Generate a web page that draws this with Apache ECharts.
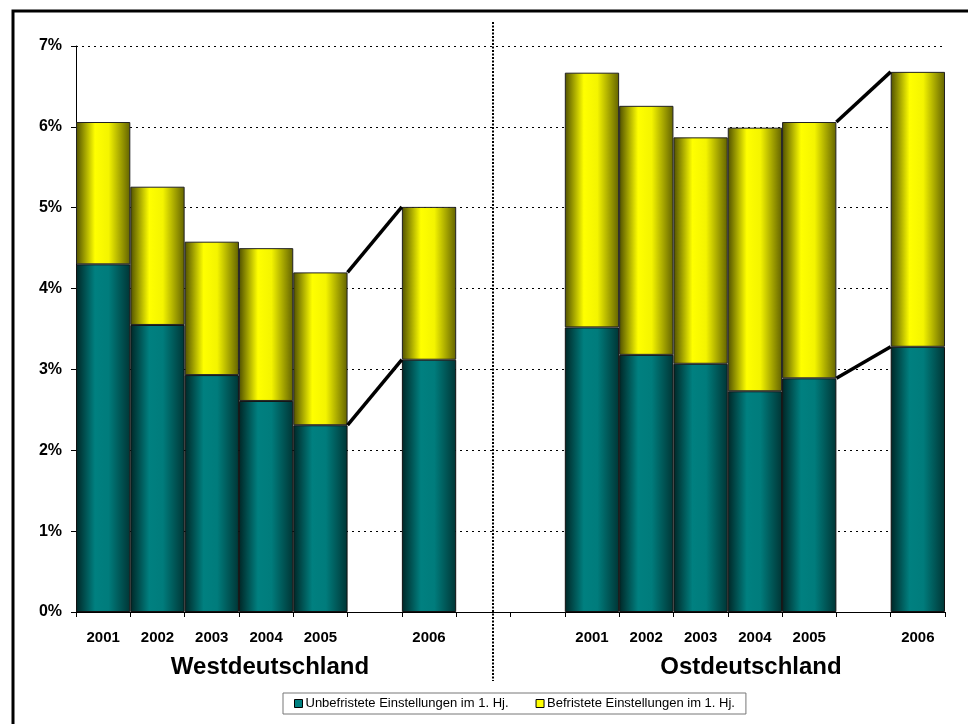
<!DOCTYPE html>
<html>
<head>
<meta charset="utf-8">
<script src="https://cdn.jsdelivr.net/npm/echarts@6/dist/echarts.min.js"></script>
<style>
html,body{margin:0;padding:0;background:#fff;}
#chart{width:968px;height:724px;}
</style>
</head>
<body>
<div id="chart"></div>
<script>
// ---- data (values in percent) ----
const categories = ['2001','2002','2003','2004','2005','','2006','','','2001','2002','2003','2004','2005','','2006'];
const unbefristet = [4.30, 3.55, 2.93, 2.61, 2.31, null, 3.12, null, null, 3.52, 3.18, 3.07, 2.73, 2.89, null, 3.28];
const befristet   = [1.76, 1.71, 1.65, 1.89, 1.89, null, 1.89, null, null, 3.15, 3.08, 2.80, 3.26, 3.17, null, 3.40];
const yTicks = [0, 1, 2, 3, 4, 5, 6, 7];
const groupLabels = ['Westdeutschland', 'Ostdeutschland'];
const seriesNames = ['Unbefristete Einstellungen im 1. Hj.', 'Befristete Einstellungen im 1. Hj.'];
// connector pairs: [index of 2005, index of 2006]
const connectors = [[4, 6], [13, 15]];

const FONT = "'Liberation Sans', Arial, sans-serif";

function grad(edgeL, mid1, mid2, edgeR) {
  return new echarts.graphic.LinearGradient(0, 0, 1, 0, [
    {offset: 0, color: edgeL},
    {offset: 0.35, color: mid1},
    {offset: 0.6, color: mid2},
    {offset: 1, color: edgeR}
  ]);
}
const tealGrad = grad('#002626', '#008080', '#007c7c', '#003535');
const yellowGrad = grad('#4f4f00', '#ffff00', '#f4f400', '#626200');

// connector line series built from data arrays
const lineSeries = [];
connectors.forEach(function (c) {
  const a = c[0], b = c[1];
  const xl = a + 1, xr = b;
  const lowL = unbefristet[a], lowR = unbefristet[b];
  const topL = unbefristet[a] + befristet[a], topR = unbefristet[b] + befristet[b];
  [[lowL, lowR], [topL, topR]].forEach(function (p) {
    lineSeries.push({
      type: 'line', xAxisIndex: 1, yAxisIndex: 0,
      data: [[xl, p[0]], [xr, p[1]]],
      symbol: 'none', silent: true, z: 5,
      lineStyle: {color: '#000', width: 3.5}
    });
  });
});

const chart = echarts.init(document.getElementById('chart'), null, {renderer: 'canvas'});
chart.setOption({
  animation: false,
  backgroundColor: '#fff',
  grid: {left: 76, right: 23, top: 46, bottom: 112, containLabel: false},
  legend: {
    left: 283, top: 693,
    padding: [4, 11, 4, 11],
    itemWidth: 8, itemHeight: 8, itemGap: 27,
    borderColor: '#777', borderWidth: 1,
    icon: 'rect',
    textStyle: {fontSize: 13, fontFamily: FONT, color: '#000', padding: [0, 0, 0, -2]},
    data: [
      {name: seriesNames[0], itemStyle: {color: '#008080', borderColor: '#000', borderWidth: 1}},
      {name: seriesNames[1], itemStyle: {color: '#ffff00', borderColor: '#000', borderWidth: 1}}
    ]
  },
  xAxis: [{
    type: 'category',
    data: categories,
    boundaryGap: true,
    axisLine: {lineStyle: {color: '#000', width: 1}},
    axisTick: {show: true, inside: false, length: 5, interval: 0, lineStyle: {color: '#000'}},
    axisLabel: {interval: 0, margin: 18, color: '#000', fontWeight: 'bold', fontSize: 15, fontFamily: FONT},
    splitLine: {show: false}
  }, {
    type: 'value', min: 0, max: categories.length, show: false
  }],
  yAxis: {
    type: 'value', min: yTicks[0], max: yTicks[yTicks.length - 1], interval: 1,
    axisLine: {show: true, lineStyle: {color: '#000', width: 1}},
    axisTick: {show: true, inside: false, length: 5, lineStyle: {color: '#000'}},
    axisLabel: {margin: 14, color: '#000', fontWeight: 'bold', fontSize: 16, fontFamily: FONT,
      formatter: function (v) { return v + '%'; }},
    splitLine: {show: true, lineStyle: {color: '#000', width: 1, type: [2, 4]}}
  },
  series: [{
    name: seriesNames[0], type: 'bar', stack: 'a', xAxisIndex: 0,
    barWidth: '100%', barCategoryGap: 0,
    data: unbefristet,
    itemStyle: {color: tealGrad, borderColor: '#111', borderWidth: 1}
  }, {
    name: seriesNames[1], type: 'bar', stack: 'a', xAxisIndex: 0,
    barWidth: '100%', barCategoryGap: 0,
    data: befristet,
    itemStyle: {color: yellowGrad, borderColor: '#222', borderWidth: 1}
  }].concat(lineSeries),
  graphic: [
    {type: 'polyline', shape: {points: [[13, 740], [13, 11], [980, 11]]},
     style: {stroke: '#000', lineWidth: 3, fill: null}, z: 10},
    {type: 'line', shape: {x1: 493, y1: 22, x2: 493, y2: 681},
     style: {stroke: '#000', lineWidth: 2, lineDash: [2, 1.5]}, z: 10},
    {type: 'text', x: 270, y: 667,
     style: {text: groupLabels[0], font: "bold 24px 'Liberation Sans', Arial, sans-serif",
       fill: '#000', textAlign: 'center', textVerticalAlign: 'middle'}},
    {type: 'text', x: 751, y: 667,
     style: {text: groupLabels[1], font: "bold 24px 'Liberation Sans', Arial, sans-serif",
       fill: '#000', textAlign: 'center', textVerticalAlign: 'middle'}}
  ]
});
</script>
</body>
</html>
